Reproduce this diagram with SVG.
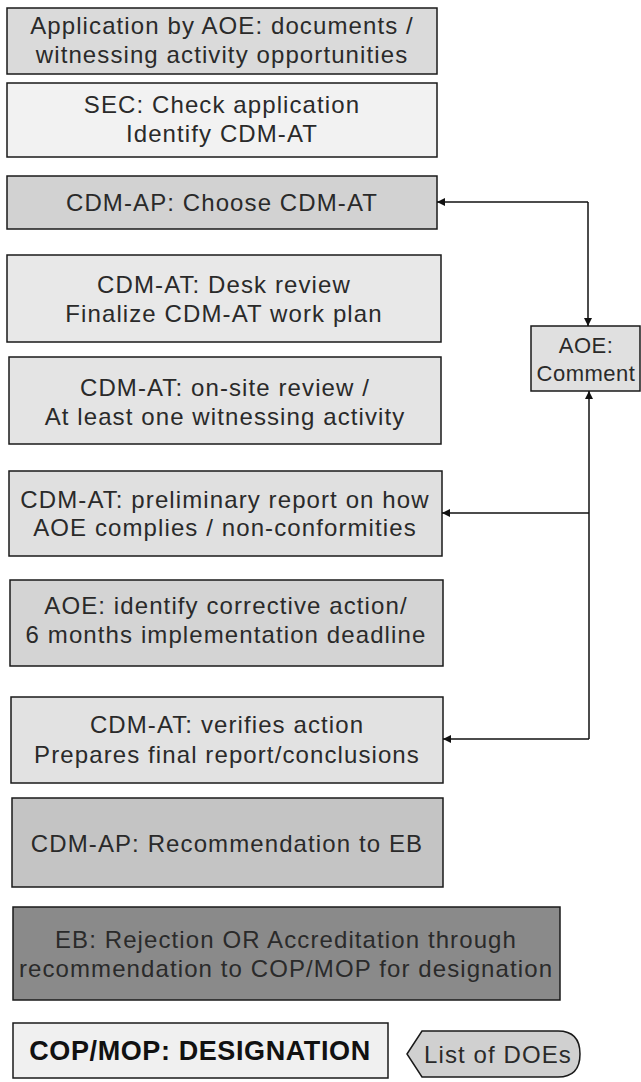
<svg xmlns="http://www.w3.org/2000/svg" width="641" height="1082" viewBox="0 0 641 1082">
<defs>
<style>
.box{stroke:#1a1a1a;stroke-width:1.5}
.t{font-family:"Liberation Sans",Arial,sans-serif;font-size:24px;letter-spacing:1.1px;fill:#2a2a2a;text-anchor:middle}
.b{font-weight:bold;font-size:27px;letter-spacing:0.6px;fill:#111}
.c{font-size:22px;letter-spacing:0.5px}
.line{fill:none;stroke:#111;stroke-width:1.5}
</style>
<marker id="ah" viewBox="0 0 10 10" refX="10" refY="5" markerWidth="9" markerHeight="8" markerUnits="userSpaceOnUse" orient="auto">
<path d="M0,0 L10,5 L0,10 z" fill="#111"/>
</marker>
</defs>
<rect width="641" height="1082" fill="#ffffff"/>
<g id="n1"><rect class="box" x="7" y="8" width="430" height="66" fill="#dadada"/>
<text class="t" x="222" y="34">Application by AOE: documents /</text>
<text class="t" x="222" y="63">witnessing activity opportunities</text></g>
<g id="n2"><rect class="box" x="7" y="83" width="430" height="74" fill="#f2f2f2"/>
<text class="t" x="222" y="113">SEC: Check application</text>
<text class="t" x="222" y="142">Identify CDM-AT</text></g>
<g id="n3"><rect class="box" x="7" y="176" width="430" height="53" fill="#d2d2d2"/>
<text class="t" x="222" y="211">CDM-AP: Choose CDM-AT</text></g>
<g id="n4"><rect class="box" x="7" y="255" width="434" height="87" fill="#e8e8e8"/>
<text class="t" x="224" y="293">CDM-AT: Desk review</text>
<text class="t" x="224" y="322">Finalize CDM-AT work plan</text></g>
<g id="n5"><rect class="box" x="9" y="357" width="432" height="87" fill="#e4e4e4"/>
<text class="t" x="225" y="396">CDM-AT: on-site review /</text>
<text class="t" x="225" y="425">At least one witnessing activity</text></g>
<g id="n6"><rect class="box" x="9" y="471" width="433" height="85" fill="#e0e0e0"/>
<text class="t" x="225" y="508">CDM-AT: preliminary report on how</text>
<text class="t" x="225" y="536">AOE complies / non-conformities</text></g>
<g id="n7"><rect class="box" x="10" y="580" width="433" height="86" fill="#d4d4d4"/>
<text class="t" x="226" y="614">AOE: identify corrective action/</text>
<text class="t" x="226" y="643">6 months implementation deadline</text></g>
<g id="n8"><rect class="box" x="11" y="697" width="432" height="86" fill="#e2e2e2"/>
<text class="t" x="227" y="733">CDM-AT: verifies action</text>
<text class="t" x="227" y="763">Prepares final report/conclusions</text></g>
<g id="n9"><rect class="box" x="12" y="798" width="431" height="89" fill="#c4c4c4"/>
<text class="t" x="227" y="852">CDM-AP: Recommendation to EB</text></g>
<g id="n10"><rect class="box" x="13" y="907" width="547" height="93" fill="#8a8a8a"/>
<text class="t" x="286" y="948">EB: Rejection OR Accreditation through</text>
<text class="t" x="286" y="977">recommendation to COP/MOP for designation</text></g>
<g id="n11"><rect class="box" x="13" y="1023" width="375" height="55" fill="#f0f0f0"/>
<text class="t b" x="200" y="1060">COP/MOP: DESIGNATION</text></g>
<g id="n12"><path class="box" d="M407,1054 L422,1031 L558,1031 Q580,1031 580,1054 Q580,1077 558,1077 L422,1077 Z" fill="#d0d0d0"/>
<text class="t" x="498" y="1063">List of DOEs</text></g>
<g id="n13"><rect class="box" x="531" y="326" width="109" height="65" fill="#e0e0e0"/>
<text class="t c" x="586" y="353">AOE:</text>
<text class="t c" x="586" y="381">Comment</text></g>
<g id="connectors">
<path class="line" d="M588,202 L588,326" marker-end="url(#ah)"/>
<path class="line" d="M588,202 L437,202" marker-end="url(#ah)"/>
<path class="line" d="M589,739 L589,391" marker-end="url(#ah)"/>
<path class="line" d="M589,513 L442,513" marker-end="url(#ah)"/>
<path class="line" d="M589,739 L443,739" marker-end="url(#ah)"/>
</g>
</svg>
